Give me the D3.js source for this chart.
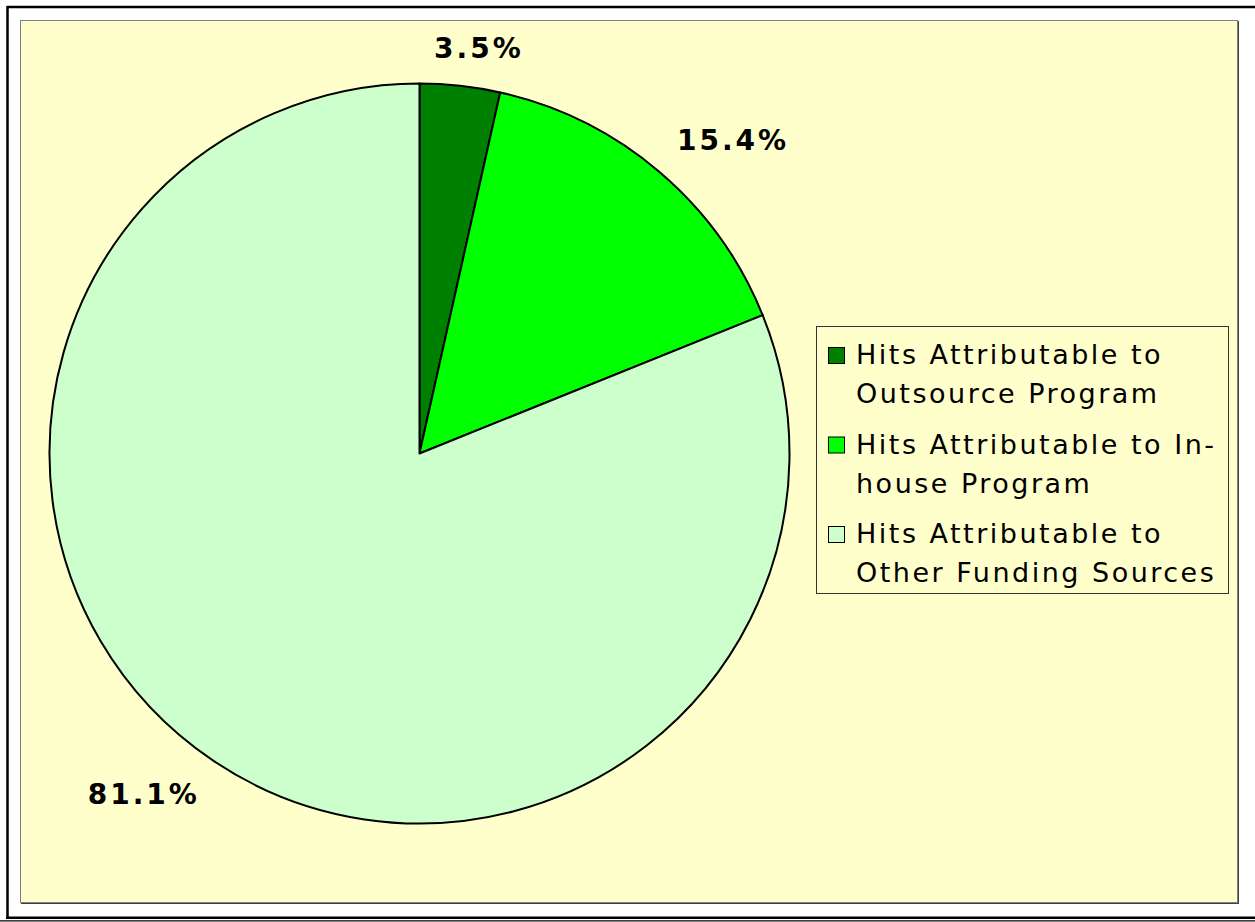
<!DOCTYPE html>
<html>
<head>
    <title>Pie Chart</title>
    <script type="text/javascript" src="https://cdn.jsdelivr.net/npm/d3@7/dist/d3.min.js"></script>
    <style>
        body { margin: 0; background: #ffffff; }
        text { font-family: "DejaVu Sans", Verdana, sans-serif; }
    </style>
</head>
<body>
    <div id="chart"></div>
    <script>
        // data
        var categories = ["Hits Attributable to Outsource Program",
                          "Hits Attributable to In-house Program",
                          "Hits Attributable to Other Funding Sources"];
        var values = [3.5, 15.4, 81.1];
        var labels = ["3.5%", "15.4%", "81.1%"];
        var legendLines = [["Hits Attributable to", "Outsource Program"],
                           ["Hits Attributable to In-", "house Program"],
                           ["Hits Attributable to", "Other Funding Sources"]];
        var colors = ["#008000", "#00ff00", "#ccffcc"];

        var width = 1255, height = 922;
        var cx = 419.5, cy = 453.5, radius = 370;

        var svg = d3.select("#chart").append("svg")
            .attr("width", width)
            .attr("height", height);

        // outer frame
        svg.append("line").attr("x1", 7).attr("x2", 1255).attr("y1", 7).attr("y2", 7)
            .attr("stroke", "#000").attr("stroke-width", 2.5);
        svg.append("line").attr("x1", 7.5).attr("x2", 7.5).attr("y1", 6).attr("y2", 918)
            .attr("stroke", "#000").attr("stroke-width", 2.5);
        svg.append("line").attr("x1", 6).attr("x2", 1255).attr("y1", 917.8).attr("y2", 917.8)
            .attr("stroke", "#000").attr("stroke-width", 2.5);
        svg.append("line").attr("x1", 0).attr("x2", 1255).attr("y1", 920.8).attr("y2", 920.8)
            .attr("stroke", "#000").attr("stroke-width", 1.2);

        // plot area
        svg.append("rect")
            .attr("x", 21).attr("y", 21).attr("width", 1218).attr("height", 883)
            .attr("fill", "#404040");
        svg.append("rect")
            .attr("x", 20.5).attr("y", 20.5).attr("width", 1217).attr("height", 882)
            .attr("fill", "#ffffcc")
            .attr("stroke", "#808080")
            .attr("stroke-width", 1);

        var pie = d3.pie().sort(null).value(function(d) { return d; });
        var arcs = pie(values);
        var arc = d3.arc().innerRadius(0).outerRadius(radius);

        var g = svg.append("g")
            .attr("transform", "translate(" + cx + "," + cy + ")");

        g.selectAll("path.slice")
            .data(arcs)
            .enter().append("path")
            .attr("class", "slice")
            .attr("fill", function(d, i) { return colors[i]; })
            .attr("stroke", "#000")
            .attr("stroke-width", 2)
            .attr("stroke-linejoin", "round")
            .attr("d", arc);

        // percentage labels, placed outside the pie on each slice's mid angle
        var labelFont = 28, labelSpacing = 3, labelR = radius + 28;
        g.selectAll("text.pct")
            .data(arcs)
            .enter().append("text")
            .attr("class", "pct")
            .style("font-size", labelFont + "px")
            .style("font-weight", "bold")
            .style("letter-spacing", labelSpacing + "px")
            .attr("fill", "#000")
            .text(function(d, i) { return labels[i]; })
            .each(function(d) {
                var w = this.getComputedTextLength() - labelSpacing;
                var h = labelFont * 0.73;
                var a = (d.startAngle + d.endAngle) / 2;
                var px = Math.sin(a) * labelR, py = -Math.cos(a) * labelR;
                var kx = Math.max(-1, Math.min(1, Math.sin(a) * 3));
                var ky = Math.cos(a) > 0 ? -1 : 1;
                var mx = px + kx * w / 2, my = py + ky * h / 2;
                d3.select(this)
                    .attr("x", mx - w / 2)
                    .attr("y", my + h / 2);
            });

        // legend
        var legend = svg.append("g");
        legend.append("rect")
            .attr("x", 816.5).attr("y", 326.5).attr("width", 412).attr("height", 267)
            .attr("fill", "#ffffcc")
            .attr("stroke", "#333")
            .attr("stroke-width", 1);

        var legendY = d3.scaleLinear().domain([0, 1]).range([364, 453.5]);
        var lineH = 39;
        var items = legend.selectAll("g.item")
            .data(categories)
            .enter().append("g")
            .attr("class", "item")
            .attr("transform", function(d, i) { return "translate(0," + legendY(i) + ")"; });

        items.append("rect")
            .attr("x", 828.5).attr("y", -16.5).attr("width", 16).attr("height", 16)
            .attr("fill", function(d, i) { return colors[i]; })
            .attr("stroke", "#000")
            .attr("stroke-width", 1);

        items.each(function(d, i) {
            var item = d3.select(this);
            legendLines[i].forEach(function(t, j) {
                item.append("text")
                    .attr("x", 856)
                    .attr("y", j * lineH)
                    .style("font-size", "27px")
                    .style("letter-spacing", "2.5px")
                    .attr("fill", "#000")
                    .text(t);
            });
        });
    </script>
</body>
</html>
